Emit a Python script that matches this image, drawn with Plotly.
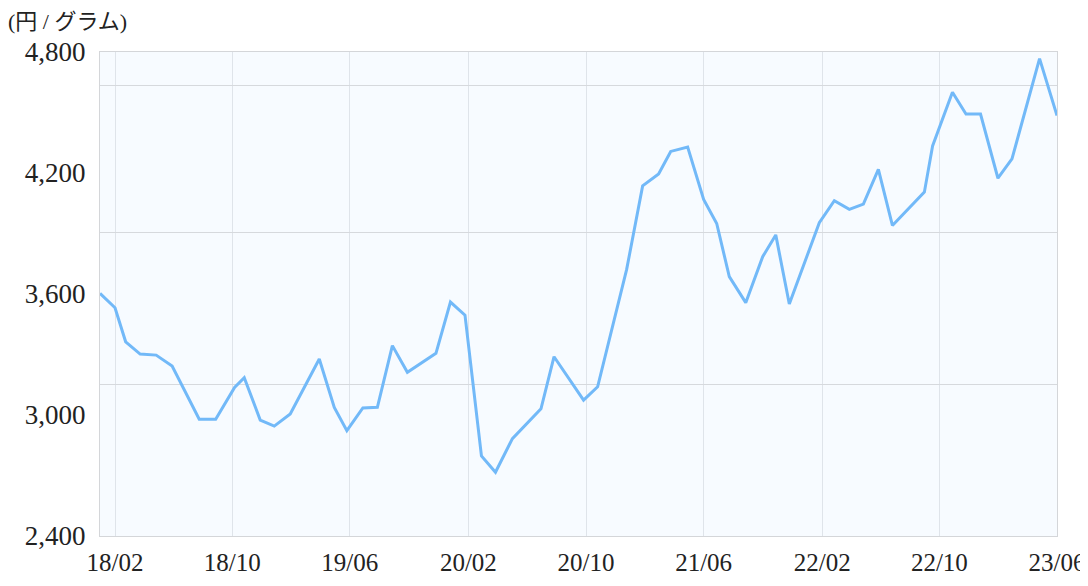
import plotly.graph_objects as go

# ---- data ----
dates = [
    "2018-01-01", "2018-02-01", "2018-02-23", "2018-03-25", "2018-04-27", "2018-05-30",
    "2018-07-25", "2018-08-28", "2018-10-06", "2018-10-26", "2018-11-28", "2018-12-27",
    "2019-01-29", "2019-03-30", "2019-04-30", "2019-05-26", "2019-06-28", "2019-07-28",
    "2019-08-28", "2019-09-28", "2019-11-26", "2019-12-26", "2020-01-25", "2020-02-28",
    "2020-03-28", "2020-05-02", "2020-06-30", "2020-07-27", "2020-09-26", "2020-10-25",
    "2020-12-24", "2021-01-26", "2021-02-28", "2021-03-25", "2021-04-29", "2021-06-01",
    "2021-06-28", "2021-07-24", "2021-08-27", "2021-10-01", "2021-10-28", "2021-11-25",
    "2022-01-26", "2022-02-26", "2022-03-29", "2022-04-27", "2022-05-28", "2022-06-26",
    "2022-08-31", "2022-09-17", "2022-10-28", "2022-11-25", "2022-12-25", "2023-01-30",
    "2023-02-28", "2023-04-26", "2023-06-01",
]
prices = [
    3603, 3532, 3363, 3302, 3297, 3243,
    2979, 2979, 3137, 3185, 2975, 2945,
    3005, 3278, 3038, 2922, 3035, 3038,
    3344, 3212, 3306, 3560, 3495, 2797,
    2716, 2883, 3031, 3289, 3074, 3140,
    3722, 4136, 4195, 4307, 4329, 4069,
    3950, 3686, 3557, 3785, 3893, 3550,
    3954, 4063, 4020, 4046, 4218, 3940,
    4105, 4334, 4600, 4492, 4492, 4174,
    4270, 4767, 4485,
]

x_tick_dates = ["2018-02-01", "2018-10-01", "2019-06-01", "2020-02-01", "2020-10-01",
                "2021-06-01", "2022-02-01", "2022-10-01", "2023-06-01"]
x_tick_labels = ["18/02", "18/10", "19/06", "20/02", "20/10", "21/06", "22/02", "22/10", "23/06"]

y_tick_vals = [2400, 3000, 3600, 4200, 4800]
y_tick_labels = ["2,400", "3,000", "3,600", "4,200", "4,800"]
y_grid_vals = [3152, 3906, 4636]

unit_label = "(円 / グラム)"

# ---- figure ----
fig = go.Figure()
fig.add_trace(go.Scatter(
    x=dates, y=prices, mode="lines",
    line=dict(color="#72b9f8", width=3),
    hoverinfo="x+y", showlegend=False,
))
# invisible trace on the auxiliary axis carrying the horizontal gridlines
fig.add_trace(go.Scatter(
    x=[dates[0]], y=[y_tick_vals[0]], yaxis="y2", mode="markers",
    marker=dict(opacity=0), hoverinfo="skip", showlegend=False,
))

serif = "Liberation Serif, DejaVu Serif, serif"
# the page body adds an 8px offset, so the figure is 8px smaller on each side
fig.update_layout(
    width=1080, height=578,
    margin=dict(l=92, r=31, t=44, b=50, autoexpand=False),
    paper_bgcolor="white",
    plot_bgcolor="#f7fbff",
    title=dict(
        text=unit_label, xref="container", yref="container",
        x=0.0, y=0.99, xanchor="left", yanchor="top",
        font=dict(family="Liberation Serif, Noto Sans CJK JP", size=22, color="#222"),
        automargin=False,
    ),
    xaxis=dict(
        type="date", range=[dates[0], dates[-1]],
        tickmode="array", tickvals=x_tick_dates, ticktext=x_tick_labels,
        showgrid=True, gridcolor="#dfe4ea", gridwidth=1.3,
        showline=True, linecolor="#d4d6d9", linewidth=1, mirror=True,
        ticks="", ticklabelstandoff=4, automargin=False,
        tickfont=dict(family=serif, size=25, color="#222"),
        zeroline=False,
    ),
    yaxis=dict(
        range=[2400, 4800],
        tickmode="array", tickvals=y_tick_vals, ticktext=y_tick_labels,
        showgrid=False,
        showline=True, linecolor="#d4d6d9", linewidth=1, mirror=True,
        ticks="", ticklabelstandoff=8, automargin=False,
        tickfont=dict(family=serif, size=27, color="#222"),
        zeroline=False,
    ),
    yaxis2=dict(
        overlaying="y", range=[2400, 4800],
        tickmode="array", tickvals=y_grid_vals,
        showticklabels=False, showgrid=True, gridcolor="#d6d9dd", gridwidth=1,
        zeroline=False, showline=False, automargin=False,
    ),
)

fig.write_html("out.html")
